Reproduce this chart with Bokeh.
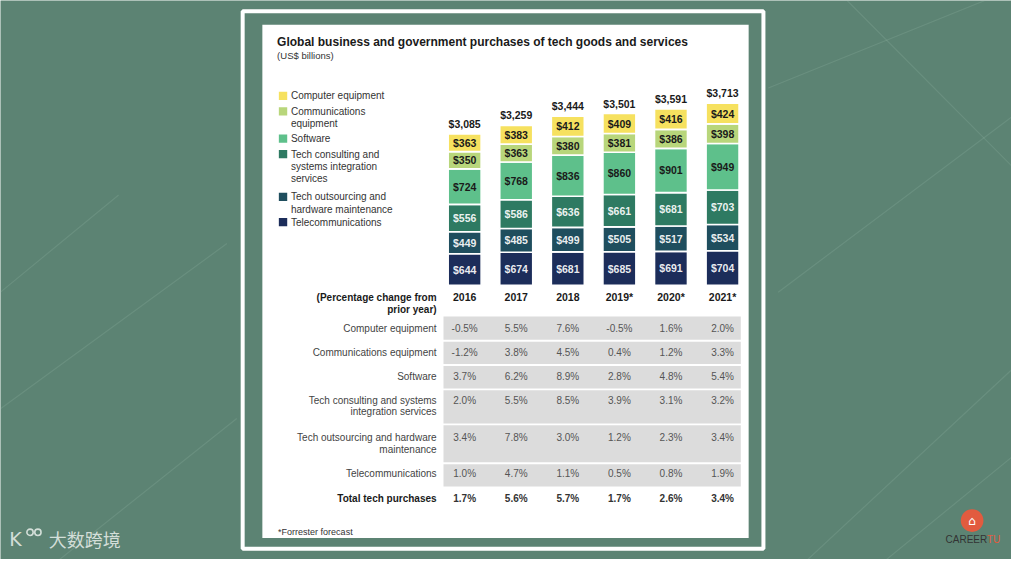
from bokeh.plotting import figure
from bokeh.models import Range1d, ColumnDataSource
from bokeh.core.properties import value
from bokeh.embed import file_html
from bokeh.resources import INLINE
import numpy as np

# ---------------- data ----------------
years = ["2016", "2017", "2018", "2019*", "2020*", "2021*"]
telecom = [644, 674, 681, 685, 691, 704]
outsourcing = [449, 485, 499, 505, 517, 534]
consulting = [556, 586, 636, 661, 681, 703]
software = [724, 768, 836, 860, 901, 949]
comm_equip = [350, 363, 380, 381, 386, 398]
comp_equip = [363, 383, 412, 409, 416, 424]
totals = [3085, 3259, 3444, 3501, 3591, 3713]

legend_labels = [
    ["Computer equipment"],
    ["Communications", "equipment"],
    ["Software"],
    ["Tech consulting and", "systems integration", "services"],
    ["Tech outsourcing and", "hardware maintenance"],
    ["Telecommunications"],
]

row_labels = [
    ["Computer equipment"],
    ["Communications equipment"],
    ["Software"],
    ["Tech consulting and systems", "integration services"],
    ["Tech outsourcing and hardware", "maintenance"],
    ["Telecommunications"],
]
pct_comp = [-0.5, 5.5, 7.6, -0.5, 1.6, 2.0]
pct_comm = [-1.2, 3.8, 4.5, 0.4, 1.2, 3.3]
pct_soft = [3.7, 6.2, 8.9, 2.8, 4.8, 5.4]
pct_cons = [2.0, 5.5, 8.5, 3.9, 3.1, 3.2]
pct_outs = [3.4, 7.8, 3.0, 1.2, 2.3, 3.4]
pct_tele = [1.0, 4.7, 1.1, 0.5, 0.8, 1.9]
pct_total = [1.7, 5.6, 5.7, 1.7, 2.6, 3.4]

# ---------------- styles ----------------
FONT = value("Liberation Sans")
BG = "#5c8373"
C_COMP = "#f6e15f"
C_COMM = "#b8d67b"
C_SOFT = "#5ec08b"
C_CONS = "#2e7a62"
C_OUTS = "#1f4e5e"
C_TELE = "#1c2d5a"

W, H = 1027, 575  # layout coordinate system (reference pixels)
p = figure(width=1011, height=559, x_range=Range1d(0, W), y_range=Range1d(H, 0),
           output_backend="svg", toolbar_location=None, min_border=0,
           x_axis_location=None, y_axis_location=None)
p.grid.visible = False
p.outline_line_color = None
p.background_fill_color = BG
p.border_fill_color = BG

# scales for the bars: category index and US$ billions
px_per_unit = 0.0505
base_px = 293.0
bar0_px = 471.5
step_px = 52.4
p.extra_y_ranges = {"usd": Range1d(start=(base_px - H) / px_per_unit, end=base_px / px_per_unit)}
p.extra_x_ranges = {"idx": Range1d(start=-bar0_px / step_px, end=(W - bar0_px) / step_px)}

# decorative faint background lines
for (x0, y0, x1, y1) in [(790, 300, 1027, 120), (820, 575, 1027, 380), (860, 0, 1027, 170),
                          (900, 575, 1027, 470), (780, 90, 1000, 0), (0, 420, 230, 250),
                          (0, 300, 120, 200), (60, 575, 240, 430)]:
    p.line([x0, x1], [y0, y1], line_color="#a9c6b8", line_alpha=0.18, line_width=1.2)

# frame and panel
p.quad(left=[246], right=[775], top=[11], bottom=[564], fill_color=None,
       line_color="white", line_width=4)
p.quad(left=[266], right=[760], top=[25], bottom=[553], fill_color="white", line_color=None)

# title
p.text(x=[281], y=[43], text=["Global business and government purchases of tech goods and services"],
       text_font=FONT, text_font_size="12px", text_font_style="bold", text_color="#1a1a1a",
       text_baseline="middle", text_align="left")
p.text(x=[281], y=[57], text=["(US$ billions)"], text_font=FONT, text_font_size="9.5px",
       text_color="#333333", text_baseline="middle", text_align="left")

# legend
leg_colors = [C_COMP, C_COMM, C_SOFT, C_CONS, C_OUTS, C_TELE]
leg_y0 = [98, 114, 142, 158, 202, 228]
line_h = 12.5
for col, y0, lines in zip(leg_colors, leg_y0, legend_labels):
    p.rect(x=[287], y=[y0], width=8.5, height=8.5, fill_color=col, line_color=None)
    p.text(x=[295] * len(lines), y=[y0 + i * line_h for i in range(len(lines))], text=lines,
           text_font=FONT, text_font_size="10px", text_color="#333333",
           text_baseline="middle", text_align="left")

# stacked bars
idx = list(range(len(years)))
stackers = ["telecom", "outsourcing", "consulting", "software", "comm_equip", "comp_equip"]
series = [telecom, outsourcing, consulting, software, comm_equip, comp_equip]
stack_colors = [C_TELE, C_OUTS, C_CONS, C_SOFT, C_COMM, C_COMP]
src = ColumnDataSource(dict(x=idx, **{k: v for k, v in zip(stackers, series)}))
p.vbar_stack(stackers, x="x", width=33.5 / step_px, color=stack_colors, line_color="white",
             line_width=1.6, source=src, x_range_name="idx", y_range_name="usd")

arr = np.array(series, dtype=float)
tops = np.cumsum(arr, axis=0)
centers = tops - arr / 2
for k in range(len(series)):
    txt_col = "white" if k < 3 else "#1a1a1a"
    p.text(x=idx, y=list(centers[k]), text=[f"${v:,}" for v in series[k]],
           x_range_name="idx", y_range_name="usd", text_font=FONT, text_font_size="10.5px",
           text_font_style="bold", text_color=txt_col, text_alpha=0.92 if k < 3 else 1.0,
           text_baseline="middle", text_align="center")

# totals
p.text(x=idx, y=[t + 80 for t in totals], text=[f"${t:,}" for t in totals],
       x_range_name="idx", y_range_name="usd", text_font=FONT, text_font_size="10.5px",
       text_font_style="bold", text_color="#1a1a1a", text_baseline="bottom", text_align="center")

# year header row
p.text(x=idx, y=[305] * len(years), text=years, x_range_name="idx", text_font=FONT,
       text_font_size="10.5px", text_font_style="bold", text_color="#1a1a1a",
       text_baseline="middle", text_align="center")
p.text(x=[443, 443], y=[305, 318], text=["(Percentage change from", "prior year)"],
       text_font=FONT, text_font_size="10px", text_font_style="bold", text_color="#1a1a1a",
       text_baseline="middle", text_align="right")

# table background
band_top = [325, 351, 376, 401, 437, 477]
band_bot = [349, 374, 399, 435, 475, 500]
p.quad(left=[450] * 6, right=[752] * 6, top=band_top, bottom=band_bot,
       fill_color="#dcdcdc", line_color=None)

row_vals = [pct_comp, pct_comm, pct_soft, pct_cons, pct_outs, pct_tele]
row_y = [337, 362, 387, 411, 450, 487]
for lines, y0, vals in zip(row_labels, row_y, row_vals):
    p.text(x=[443] * len(lines), y=[y0 + i * 12 for i in range(len(lines))], text=lines,
           text_font=FONT, text_font_size="10px", text_color="#444444",
           text_baseline="middle", text_align="right")
    p.text(x=idx, y=[y0] * len(vals), text=[f"{v:.1f}%" for v in vals], x_range_name="idx",
           text_font=FONT, text_font_size="10px", text_color="#555555",
           text_baseline="middle", text_align="center")

p.text(x=[443], y=[512], text=["Total tech purchases"], text_font=FONT, text_font_size="10px",
       text_font_style="bold", text_color="#1a1a1a", text_baseline="middle", text_align="right")
p.text(x=idx, y=[512] * len(pct_total), text=[f"{v:.1f}%" for v in pct_total], x_range_name="idx",
       text_font=FONT, text_font_size="10px", text_font_style="bold", text_color="#333333",
       text_baseline="middle", text_align="center")

p.text(x=[282], y=[547], text=["*Forrester forecast"], text_font=FONT, text_font_size="9px",
       text_color="#333333", text_baseline="middle", text_align="left")

# watermark bottom-left
p.text(x=[9], y=[554], text=["K"], text_font=value("DejaVu Sans"), text_font_size="19px",
       text_color="#d3ded8", text_baseline="middle", text_align="left")
p.circle(x=[30, 38], y=[547, 547], radius=3.2, fill_color=None, line_color="#d3ded8", line_width=1.6)
p.text(x=[49], y=[554], text=["大数跨境"], text_font=value("Noto Sans CJK SC"), text_font_size="18px",
       text_color="#d3ded8", text_baseline="middle", text_align="left")

# watermark bottom-right
p.circle(x=[987], y=[535], radius=11.5, fill_color="#e25b3f", line_color=None)
p.text(x=[987], y=[535], text=["⌂"], text_font=value("DejaVu Sans"), text_font_size="12px",
       text_color="white", text_baseline="middle", text_align="center")
p.text(x=[960], y=[554], text=["CAREER"], text_font=FONT, text_font_size="10px",
       text_color="#333333", text_baseline="middle", text_align="left")
p.text(x=[1002], y=[554], text=["TU"], text_font=FONT, text_font_size="10px",
       text_color="#e25b3f", text_baseline="middle", text_align="left")

open("out.html", "w").write(file_html(p, INLINE))
